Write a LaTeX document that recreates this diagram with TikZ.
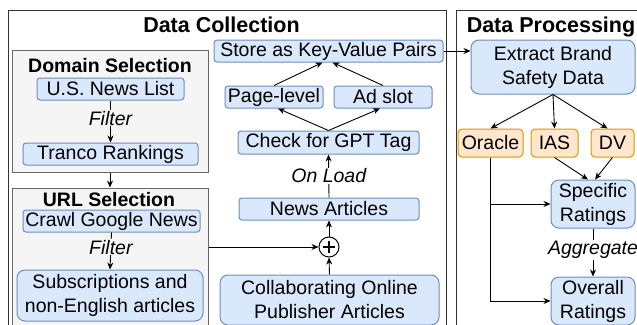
\documentclass[tikz,border=0pt]{standalone}
\usepackage{fontspec}
\setmainfont{Liberation Sans}
\usetikzlibrary{arrows.meta}
\definecolor{bfill}{HTML}{DAE8FC}
\definecolor{bdraw}{HTML}{6C8EBF}
\definecolor{ofill}{HTML}{FFE6CC}
\definecolor{odraw}{HTML}{D79B00}
\definecolor{gfill}{HTML}{F5F5F5}
\definecolor{gdraw}{HTML}{666666}
\definecolor{odk}{HTML}{333333}
\begin{document}
\begin{tikzpicture}[x=1pt,y=-1pt,
  every node/.style={font=\fontsize{19.5}{24}\selectfont, inner sep=0pt},
  bluebox/.style={draw=bdraw, fill=bfill, rounded corners=3pt, line width=1pt, align=center},
  bigblue/.style={bluebox, rounded corners=8pt},
  orangebox/.style={draw=odraw, fill=ofill, rounded corners=4pt, line width=1pt, minimum height=28pt},
  groupbox/.style={draw=gdraw, fill=gfill, line width=1pt},
  outerbox/.style={draw=odk, line width=1pt},
  grouptitle/.style={font=\fontsize{19.5}{24}\selectfont\bfseries, anchor=base},
  bigtitle/.style={font=\fontsize{21.5}{26}\selectfont\bfseries, anchor=base},
  arr/.style={-{Stealth[length=7pt,width=6pt]}, line width=0.9pt},
  lbl/.style={font=\fontsize{19.5}{24}\selectfont\itshape, fill=white, inner sep=1pt},
]
\clip (0,0) rectangle (637,324);
\useasboundingbox (0,0) rectangle (637,324);
\fill[white] (0,0) rectangle (637,324);

% outer containers
\node[outerbox, minimum width=438pt, minimum height=330pt] (dc) at (227,175) {};
\node[outerbox, minimum width=194pt, minimum height=330pt] (dp) at (553,175) {};
\node[bigtitle] (dctitle) at (221.5,32) {Data Collection};
\node[bigtitle] (dptitle) at (551,32) {Data Processing};

% group boxes
\node[groupbox, minimum width=196pt, minimum height=122pt] (dom) at (110,111) {};
\node[groupbox, minimum width=196pt, minimum height=152pt] (url) at (110,264) {};
\node[grouptitle] (domtitle) at (110,72) {Domain Selection};
\node[grouptitle] (urltitle) at (109,206) {URL Selection};

% blue boxes
\node[bluebox, minimum width=147pt, minimum height=22pt] (usnews) at (110.5,89) {U.S. News List};
\node[bluebox, minimum width=175pt, minimum height=22pt] (tranco) at (110.5,154) {Tranco Rankings};
\node[bluebox, minimum width=177pt, minimum height=22pt] (crawl) at (111.5,221) {Crawl Google News};
\node[bigblue, minimum width=186pt, minimum height=51pt] (subs) at (110,295.5) {Subscriptions and\\non-English articles};
\node[bluebox, minimum width=229pt, minimum height=22pt] (store) at (328.5,51) {Store as Key-Value Pairs};
\node[bluebox, minimum width=98pt, minimum height=22pt] (page) at (274,97) {Page-level};
\node[bluebox, minimum width=98pt, minimum height=22pt] (adslot) at (383,97) {Ad slot};
\node[bluebox, minimum width=181pt, minimum height=23pt] (check) at (328.5,142.5) {Check for GPT Tag};
\node[bluebox, minimum width=180pt, minimum height=22pt] (news) at (329,209) {News Articles};
\node[draw, circle, line width=1pt, minimum size=20pt, fill=white] (plus) at (329,247) {};
\node[bigblue, minimum width=219pt, minimum height=50pt] (collab) at (329.5,300) {Collaborating Online\\Publisher Articles};
\node[bigblue, minimum width=164pt, minimum height=54pt] (extract) at (553,67) {Extract Brand\\Safety Data};
\node[orangebox, minimum width=65pt] (oracle) at (490.5,143) {Oracle};
\node[orangebox, minimum width=47pt] (ias) at (554.5,143) {IAS};
\node[orangebox, minimum width=43pt] (dv) at (612.5,143) {DV};
\node[bigblue, minimum width=84pt, minimum height=48pt] (specific) at (593,204) {Specific\\Ratings};
\node[bigblue, minimum width=84pt, minimum height=48pt] (overall) at (593,301) {Overall\\Ratings};

% plus sign
\draw[line width=2.6pt] ([xshift=-6pt]plus.center) -- ([xshift=6pt]plus.center);
\draw[line width=2.6pt] ([yshift=-6pt]plus.center) -- ([yshift=6pt]plus.center);

% connectors
\draw[arr] (usnews.south) -- node[lbl, fill=gfill, pos=0.42] {Filter} (tranco.north);
\draw[arr] (dom.south) -- (url.north);
\draw[arr] (crawl.south) -- node[lbl, fill=gfill, pos=0.4] {Filter} (subs.north);
\draw[arr] (url.east |- plus.west) -- (plus.west);
\draw[arr] (collab.north) -- (plus.south);
\draw[arr] (plus.north) -- (news.south);
\draw[arr] (news.north) -- node[lbl, pos=0.5] {On Load} (check.south);
\draw[arr] (check.north) -- ([xshift=4pt]page.south);
\draw[arr] (check.north) -- ([xshift=-3pt]adslot.south);
\draw[arr] (page.north) -- ([xshift=-6pt]store.south);
\draw[arr] (adslot.north) -- ([xshift=4pt]store.south);
\draw[arr] (store.east) -- (extract.west |- store.east);
\draw[arr] (extract.south) -- (oracle.north);
\draw[arr] (extract.south) -- (ias.north);
\draw[arr] (extract.south) -- ([xshift=-5pt]dv.north);
\draw[arr] (ias.south) -- ([xshift=-5pt]specific.north);
\draw[arr] (dv.south) -- ([xshift=2pt]specific.north);
\draw[arr] (specific.south) -- node[lbl, pos=0.45] {Aggregate} (overall.north);
\draw[arr] (oracle.south) |- (specific.west);
\draw[arr] (oracle.south) |- (overall.west);
\end{tikzpicture}
\end{document}
